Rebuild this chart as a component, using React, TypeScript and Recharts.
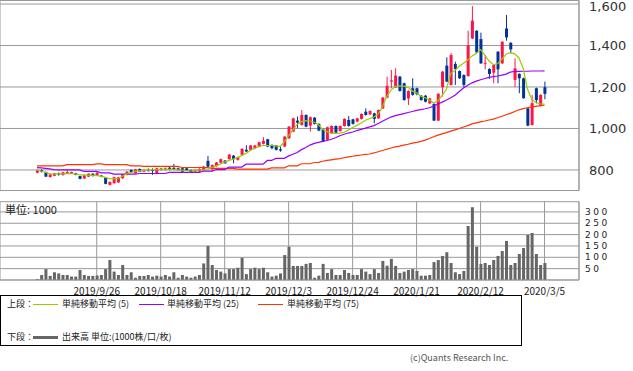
import { Bar, CartesianGrid, ComposedChart, Line, XAxis, YAxis } from 'recharts'

// daily candles, 2019/9/4 .. 2020/3/5 (120 sessions)
const OPEN = [
  787, 798, 790, 766, 772, 784, 775, 785, 782, 784, 771, 759, 768, 782, 773, 773, 763, 728, 736, 740,
  760, 776, 800, 784, 805, 792, 799, 800, 784, 806, 800, 811, 810, 808, 808, 808, 800, 792, 792, 800,
  844, 808, 819, 835, 845, 852, 869, 849, 873, 897, 897, 905, 913, 926, 948, 921, 918, 900, 913, 953,
  985, 1038, 1017, 1065, 1014, 1052, 1022, 996, 945, 977, 1012, 988, 1012, 1041, 1044, 1033, 1046, 1081, 1068, 1073,
  1049, 1097, 1149, 1226, 1198, 1250, 1218, 1145, 1194, 1194, 1158, 1158, 1121, 1118, 1038, 1199, 1303, 1210, 1311, 1277,
  1258, 1253, 1434, 1471, 1431, 1314, 1287, 1269, 1370, 1314, 1482, 1413, 1234, 1263, 1242, 1097, 1017, 1194, 1109, 1199,
]
const HIGH = [
  802, 803, 792, 780, 786, 788, 791, 800, 792, 786, 773, 776, 784, 784, 789, 776, 765, 745, 768, 767,
  781, 794, 803, 805, 807, 804, 808, 808, 810, 810, 812, 816, 829, 812, 810, 810, 802, 803, 808, 820,
  868, 826, 838, 855, 848, 877, 872, 864, 905, 919, 921, 921, 936, 958, 950, 923, 920, 913, 963, 1012,
  1052, 1058, 1089, 1068, 1058, 1055, 1025, 999, 1009, 1015, 1015, 1014, 1049, 1060, 1047, 1052, 1073, 1097, 1087, 1076,
  1092, 1152, 1250, 1282, 1290, 1253, 1221, 1184, 1242, 1197, 1161, 1161, 1148, 1121, 1170, 1277, 1343, 1364, 1322, 1280,
  1261, 1471, 1590, 1474, 1462, 1354, 1290, 1309, 1373, 1421, 1547, 1416, 1338, 1266, 1245, 1100, 1161, 1197, 1165, 1226,
]
const LOW = [
  784, 788, 766, 763, 770, 772, 773, 783, 780, 774, 755, 757, 766, 768, 771, 765, 731, 726, 734, 737,
  757, 774, 786, 782, 790, 790, 793, 776, 780, 797, 797, 798, 803, 797, 789, 795, 787, 789, 789, 797,
  812, 792, 816, 833, 830, 850, 832, 845, 870, 887, 894, 900, 910, 923, 910, 900, 894, 888, 910, 950,
  982, 1001, 1014, 1006, 985, 1019, 987, 934, 942, 974, 977, 985, 1009, 1009, 1019, 1030, 1043, 1062, 1065, 1025,
  1046, 1094, 1146, 1194, 1195, 1178, 1134, 1113, 1158, 1160, 1134, 1126, 1118, 1036, 1036, 1154, 1223, 1207, 1210, 1239,
  1199, 1250, 1431, 1364, 1311, 1285, 1239, 1218, 1218, 1311, 1423, 1362, 1199, 1170, 1143, 1011, 1014, 1121, 1106, 1141,
]
const CLOSE = [
  798, 791, 768, 778, 784, 778, 789, 790, 790, 776, 757, 774, 782, 776, 787, 768, 733, 742, 765, 765,
  779, 792, 789, 803, 792, 800, 795, 795, 808, 800, 808, 800, 805, 800, 792, 797, 789, 800, 805, 816,
  816, 824, 836, 852, 832, 874, 852, 861, 902, 889, 918, 918, 934, 940, 913, 905, 897, 894, 961, 1009,
  1049, 1028, 1065, 1009, 1054, 1022, 990, 937, 1006, 1012, 980, 1012, 1046, 1012, 1022, 1049, 1070, 1065, 1084, 1046,
  1089, 1149, 1206, 1232, 1255, 1181, 1137, 1181, 1162, 1165, 1137, 1129, 1145, 1038, 1167, 1274, 1226, 1354, 1287, 1242,
  1210, 1402, 1520, 1367, 1314, 1317, 1263, 1306, 1285, 1418, 1439, 1381, 1290, 1242, 1146, 1014, 1122, 1137, 1162, 1167,
]
const MA5 = [
  800, 794, 788, 782, 780, 781, 781, 782, 783, 780, 777, 776, 775, 774, 773, 770, 764, 758, 757, 760,
  770, 781, 788, 793, 796, 798, 799, 800, 801, 802, 803, 803, 802, 801, 799, 797, 795, 797, 799, 801,
  806, 813, 820, 828, 838, 846, 852, 860, 869, 880, 894, 905, 912, 918, 918, 918, 916, 913, 935, 965,
  993, 1020, 1033, 1038, 1036, 1030, 1018, 995, 985, 977, 976, 978, 982, 992, 1005, 1015, 1026, 1040, 1048, 1055,
  1070, 1105, 1155, 1185, 1202, 1205, 1204, 1198, 1180, 1172, 1156, 1148, 1138, 1122, 1134, 1160, 1190, 1265, 1280, 1300,
  1315, 1330, 1350, 1362, 1380, 1354, 1325, 1308, 1312, 1335, 1358, 1366, 1360, 1340, 1290, 1190, 1140, 1125, 1118, 1118,
]
const MA25 = [
  811, 810, 808, 805, 802, 800, 800, 800, 800, 800, 800, 793, 793, 793, 793, 786, 786, 786, 780, 780,
  780, 780, 780, 780, 783, 783, 783, 783, 783, 783, 783, 788, 788, 788, 788, 788, 788, 788, 788, 794,
  794, 794, 802, 802, 802, 814, 814, 814, 814, 828, 828, 828, 828, 828, 846, 846, 856, 856, 856, 868,
  876, 884, 898, 908, 920, 928, 933, 938, 942, 948, 955, 965, 972, 978, 983, 990, 996, 1002, 1008, 1014,
  1024, 1035, 1046, 1055, 1062, 1067, 1072, 1077, 1082, 1087, 1091, 1095, 1100, 1108, 1118, 1127, 1137, 1148, 1160, 1178,
  1195, 1208, 1220, 1228, 1235, 1241, 1246, 1250, 1253, 1257, 1262, 1272, 1275, 1275, 1276, 1276, 1277, 1277, 1277, 1278,
]
const MA75 = [
  820, 820, 820, 820, 820, 820, 820, 826, 826, 826, 826, 826, 826, 826, 829, 829, 826, 826, 826, 826,
  826, 826, 820, 820, 820, 817, 817, 817, 817, 817, 817, 817, 817, 817, 812, 812, 812, 812, 812, 812,
  812, 808, 808, 808, 808, 808, 808, 804, 804, 804, 804, 804, 804, 804, 804, 810, 810, 810, 810, 820,
  820, 820, 830, 830, 830, 836, 837, 842, 846, 849, 852, 855, 859, 863, 866, 869, 872, 875, 877, 882,
  888, 894, 900, 906, 911, 915, 920, 924, 929, 933, 938, 944, 952, 960, 968, 974, 980, 987, 993, 1000,
  1007, 1014, 1022, 1027, 1032, 1036, 1041, 1045, 1052, 1059, 1066, 1073, 1082, 1090, 1096, 1100, 1104, 1107, 1110, 1113,
]
// 出来高 (1000株)
const VOLUME = [
  4, 22, 48, 18, 34, 29, 22, 22, 15, 15, 44, 22, 18, 18, 20, 22, 48, 88, 37, 22,
  66, 22, 34, 10, 18, 18, 22, 15, 19, 15, 22, 15, 34, 10, 22, 15, 10, 15, 22, 73,
  150, 66, 44, 37, 29, 48, 48, 54, 98, 26, 48, 54, 48, 54, 34, 15, 19, 29, 110, 147,
  62, 62, 62, 71, 75, 10, 19, 71, 31, 48, 22, 22, 44, 31, 22, 22, 48, 37, 26, 48,
  31, 84, 63, 93, 62, 31, 37, 44, 48, 40, 19, 19, 22, 79, 88, 106, 122, 75, 34, 26,
  40, 238, 320, 147, 71, 75, 66, 88, 106, 128, 172, 66, 75, 115, 141, 198, 207, 115, 66, 75,
]

const TICK_INDEX = [14, 29, 44, 59, 74, 89, 104, 119]
const TICK_LABELS = ['2019/9/26', '2019/10/18', '2019/11/12', '2019/12/3', '2019/12/24', '2020/1/21', '2020/2/12', '2020/3/5']
const PRICE_TICKS = [800, 1000, 1200, 1400, 1600]
const VOLUME_TICKS = [50, 100, 150, 200, 250, 300]

const data = OPEN.map((o, i) => ({
  i,
  o,
  h: HIGH[i],
  l: LOW[i],
  c: CLOSE[i],
  ma5: MA5[i],
  ma25: MA25[i],
  ma75: MA75[i],
  vol: VOLUME[i],
}))

const X_DOMAIN: [number, number] = [-8.68, 127.08]
const GRID = '#999999'
const UP = '#ff1447'
const DOWN = '#003399'
const JP = '"Noto Sans CJK JP", "Noto Sans", sans-serif'

const labelOf = (v: number) => TICK_LABELS[TICK_INDEX.indexOf(v)] ?? ''

function Candle(props: any) {
  const { x, y, width, height, payload } = props
  const { o, h, l, c } = payload
  const color = c >= o ? UP : DOWN
  const span = h - l || 1
  const at = (v: number) => y + ((h - v) / span) * height
  const top = at(Math.max(o, c))
  const bottom = at(Math.min(o, c))
  const cx = x + width / 2
  return (
    <g>
      <line x1={cx} x2={cx} y1={y} y2={y + height} stroke={color} strokeWidth={1} />
      <rect x={x} y={top} width={width} height={Math.max(1, bottom - top)} fill={color} />
    </g>
  )
}

// keep the top label (1,600) inside the picture
function PriceTick(props: any) {
  const { x, y, payload } = props
  const ty = Math.max(y, 6)
  return (
    <text x={x} y={ty} dy="0.36em" fontSize={13} fill="#333" fontFamily='"DejaVu Sans", sans-serif'>
      {Number(payload.value).toLocaleString('en-US')}
    </text>
  )
}

function PriceChart() {
  return (
    <ComposedChart width={633} height={192} data={data} margin={{ top: 0.5, right: 0, bottom: 1.5, left: 0 }}>
      <CartesianGrid stroke={GRID} />
      <XAxis
        dataKey="i"
        type="number"
        domain={X_DOMAIN}
        allowDataOverflow
        ticks={TICK_INDEX}
        interval={0}
        height={0}
        tick={false}
        tickLine={false}
        axisLine={{ stroke: GRID }}
      />
      <XAxis xAxisId="top" orientation="top" type="number" domain={X_DOMAIN} height={0} tick={false} tickLine={false} axisLine={{ stroke: GRID }} />
      <YAxis
        orientation="right"
        domain={[701, 1617]}
        allowDataOverflow
        ticks={PRICE_TICKS}
        interval={0}
        width={54}
        tickSize={0}
        tickMargin={10}
        axisLine={{ stroke: GRID }}
        tick={<PriceTick />}
      />
      <YAxis yAxisId="left" orientation="left" domain={[0, 1]} width={0} tick={false} tickLine={false} axisLine={{ stroke: GRID }} />
      <Line dataKey="ma75" stroke="#ff3300" strokeWidth={1.2} dot={false} isAnimationActive={false} />
      <Line dataKey="ma25" stroke="#9900ff" strokeWidth={1.2} dot={false} isAnimationActive={false} />
      <Bar dataKey={(d: any) => [d.l, d.h]} barSize={3} shape={Candle} isAnimationActive={false} />
      <Line dataKey="ma5" stroke="#99cc00" strokeWidth={1.2} dot={false} isAnimationActive={false} />
    </ComposedChart>
  )
}

function VolumeChart() {
  return (
    <ComposedChart width={633} height={104} data={data} margin={{ top: 5.7, right: 0, bottom: 0, left: 0 }}>
      <CartesianGrid stroke={GRID} />
      <XAxis
        dataKey="i"
        type="number"
        domain={X_DOMAIN}
        allowDataOverflow
        ticks={TICK_INDEX}
        interval={0}
        height={20}
        tickSize={0}
        tickMargin={8}
        axisLine={{ stroke: GRID }}
        tickFormatter={labelOf}
        tick={{ fontSize: 10, fill: '#222', fontFamily: JP }}
      />
      <XAxis xAxisId="top" orientation="top" type="number" domain={X_DOMAIN} height={0} tick={false} tickLine={false} axisLine={{ stroke: GRID }} />
      <YAxis
        orientation="right"
        domain={[0, 345]}
        allowDataOverflow
        ticks={VOLUME_TICKS}
        interval={0}
        width={54}
        tickSize={0}
        tickMargin={6}
        axisLine={{ stroke: GRID }}
        tick={{ fontSize: 9, fill: '#222', fontFamily: '"DejaVu Sans", sans-serif', letterSpacing: 2.5 }}
      />
      <YAxis yAxisId="left" orientation="left" domain={[0, 1]} width={0} tick={false} tickLine={false} axisLine={{ stroke: GRID }} />
      <Bar dataKey="vol" barSize={3} fill="#666666" isAnimationActive={false} />
    </ComposedChart>
  )
}

const sample = (color: string, thick = 1) => ({
  position: 'absolute' as const,
  width: 25,
  height: thick,
  background: color,
})

export default function App() {
  const text = { position: 'absolute' as const, fontSize: 9, lineHeight: '12px', color: '#222', whiteSpace: 'pre' as const }
  return (
    <div style={{ position: 'absolute', left: 0, top: 0, width: 633, height: 371, background: '#fff', fontFamily: JP }}>
      <div style={{ position: 'absolute', left: 0, top: 0 }}>
        <PriceChart />
      </div>
      <div style={{ position: 'absolute', left: 0, top: 196 }}>
        <VolumeChart />
      </div>
      <div style={{ position: 'absolute', left: 5, top: 202, fontSize: 11, lineHeight: '14px', color: '#222' }}>単位: 1000</div>

      <div style={{ position: 'absolute', left: 0, top: 295, width: 520, height: 49, border: '1px solid #000' }} />
      <span style={{ ...text, left: 7, top: 298 }}>上段：</span>
      <div style={{ ...sample('#99cc00'), left: 33, top: 304 }} />
      <span style={{ ...text, left: 62, top: 298 }}>単純移動平均 (5)</span>
      <div style={{ ...sample('#9900ff'), left: 139, top: 304 }} />
      <span style={{ ...text, left: 167, top: 298 }}>単純移動平均 (25)</span>
      <div style={{ ...sample('#ff3300'), left: 258, top: 304 }} />
      <span style={{ ...text, left: 287, top: 298 }}>単純移動平均 (75)</span>
      <span style={{ ...text, left: 7, top: 331 }}>下段：</span>
      <div style={{ ...sample('#666666', 3), left: 33, top: 336 }} />
      <span style={{ ...text, left: 62, top: 331 }}>出来高 単位:(1000株/口/枚)</span>

      <span style={{ ...text, left: 410, top: 352, fontSize: 9, color: '#555' }}>(c)Quants Research Inc.</span>
    </div>
  )
}
